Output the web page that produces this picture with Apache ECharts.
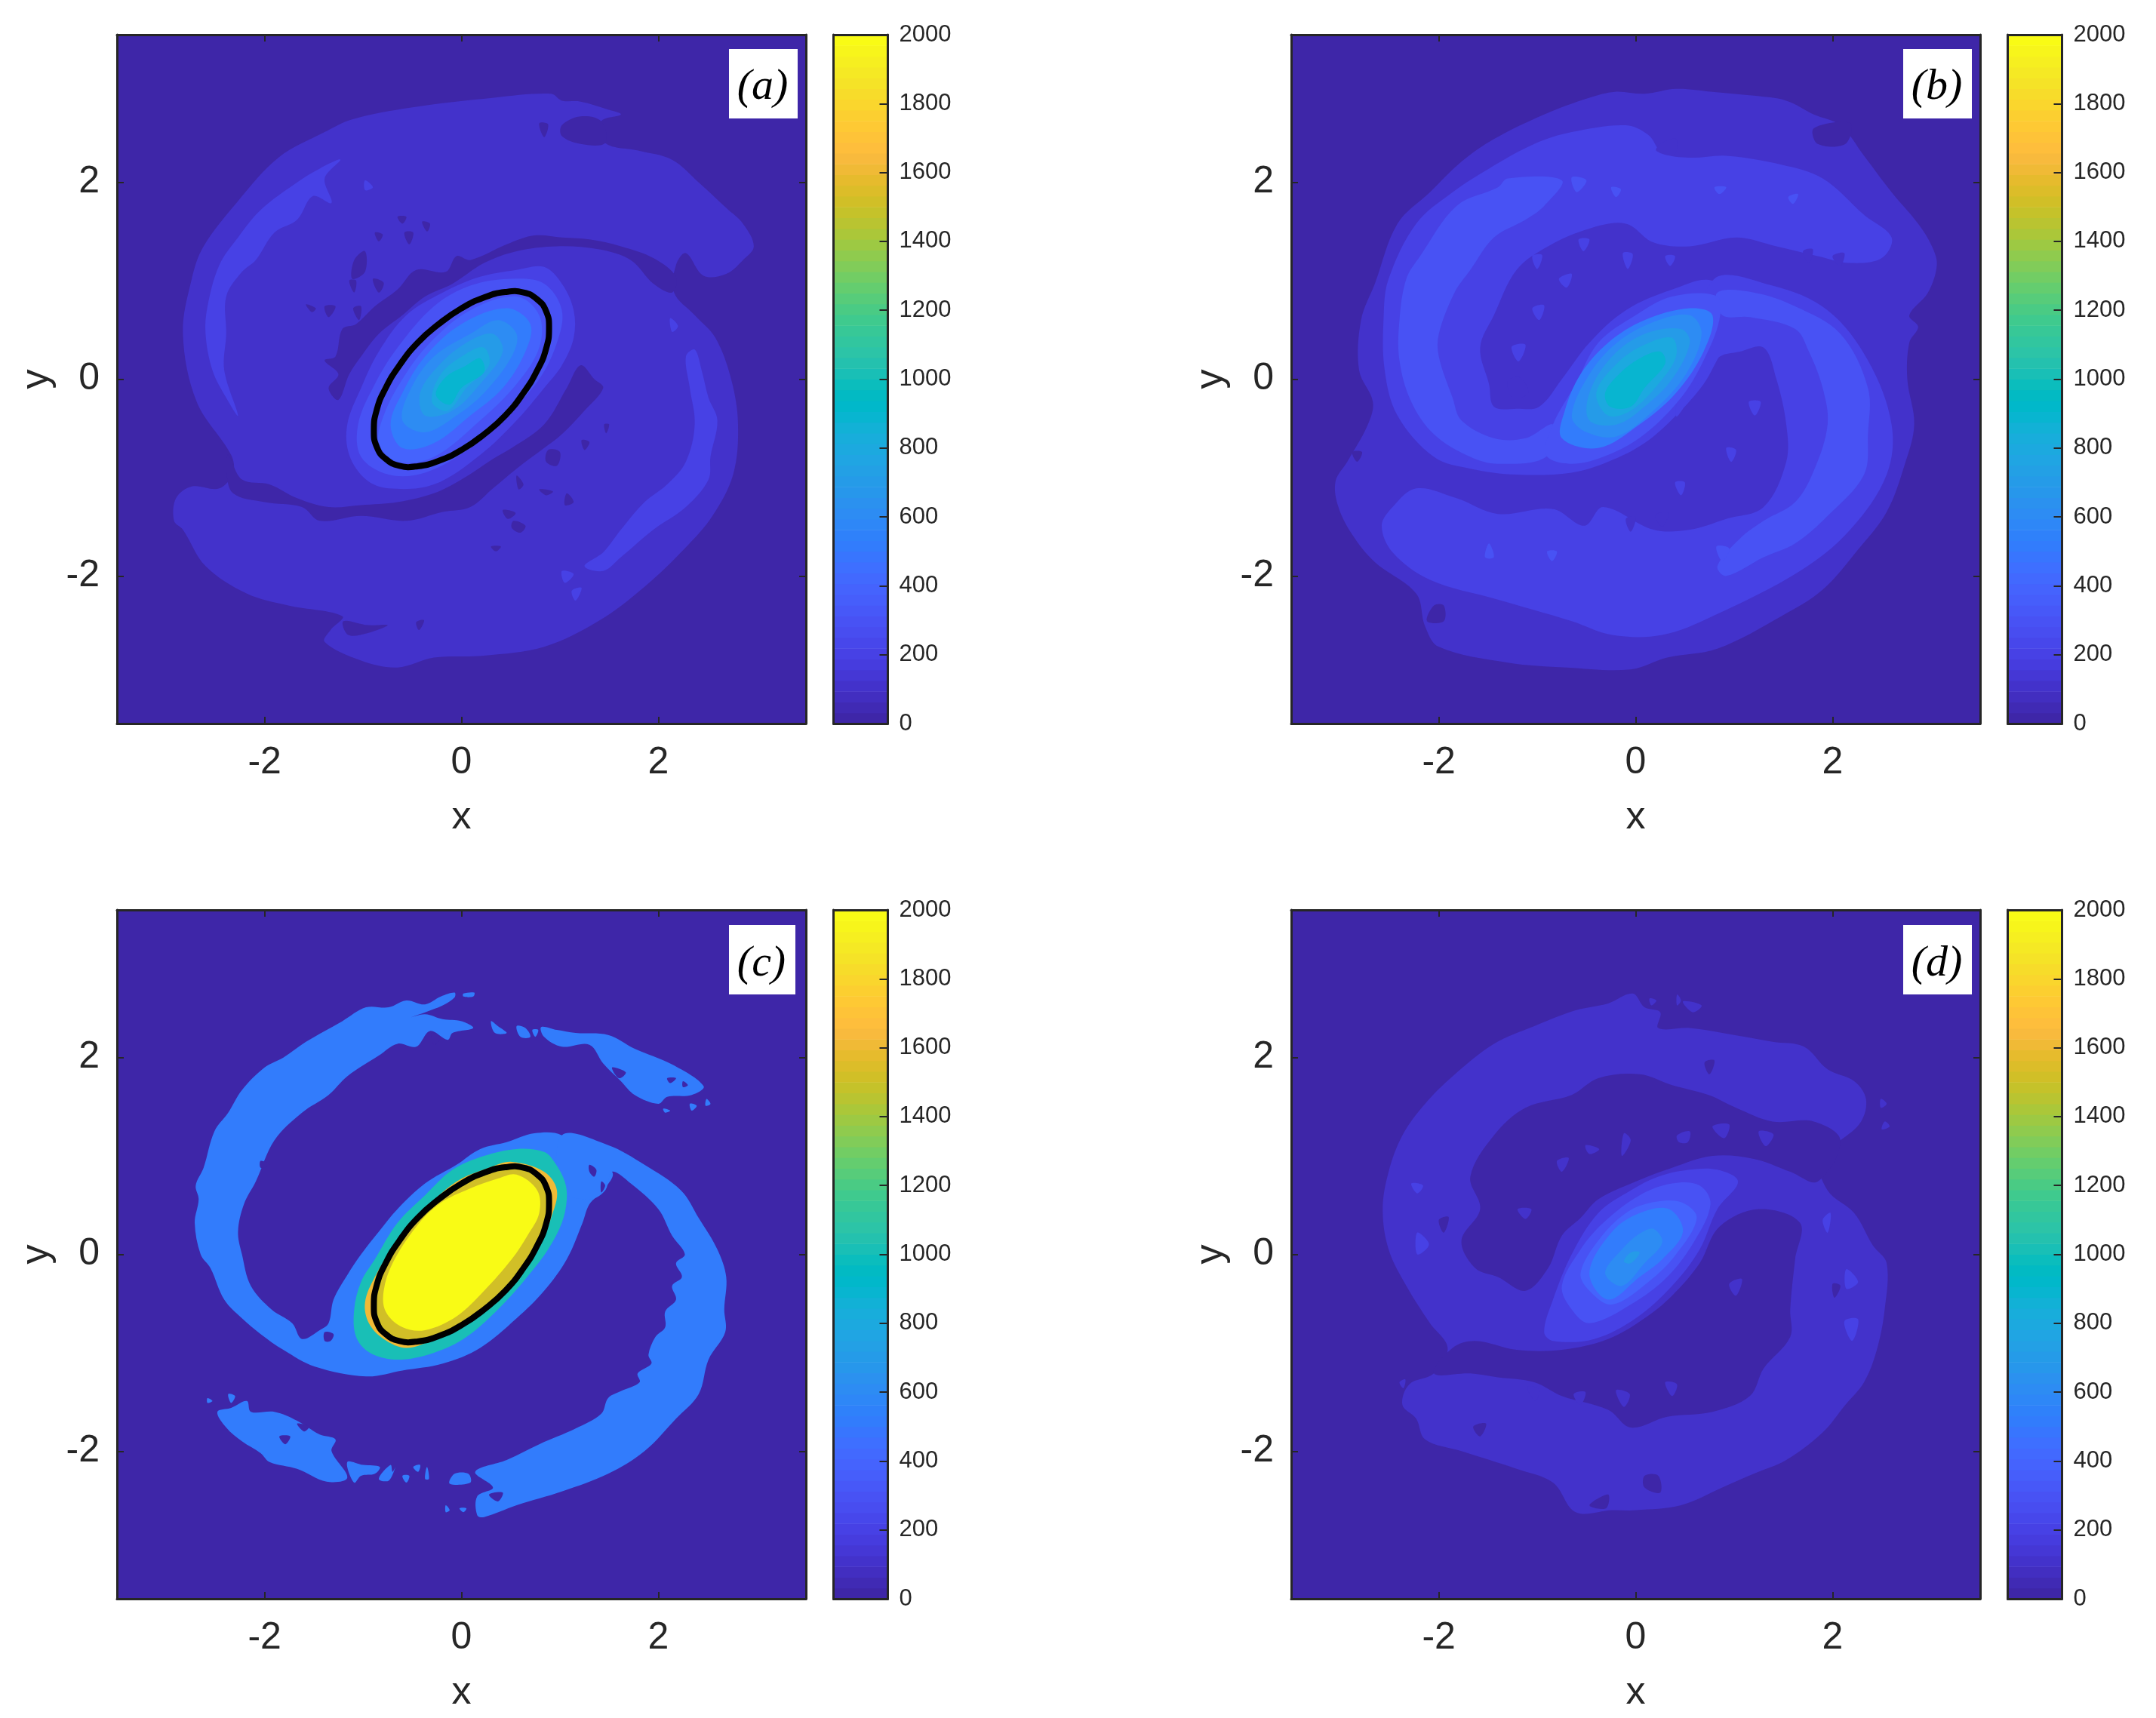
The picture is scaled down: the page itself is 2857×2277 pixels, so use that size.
<!DOCTYPE html>
<html><head><meta charset="utf-8">
<style>html,body{margin:0;padding:0;background:#fff}#c{width:2857px;height:2277px}</style>
<script src="https://cdn.jsdelivr.net/npm/echarts@6/dist/echarts.min.js"></script>
</head><body><div id="c"></div>
<script>
const xTicks=[-2,0,2], yTicks=[-2,0,2];
const cbTicks=[0,200,400,600,800,1000,1200,1400,1600,1800,2000];
const parula=[[.2422,.1504,.6603],[.2504,.165,.7076],[.2578,.1818,.7511],[.2647,.1978,.7952],[.2706,.2147,.8364],[.2751,.2342,.871],[.2783,.2559,.8991],[.2803,.2782,.9221],[.2813,.3006,.9414],[.281,.3228,.9579],[.2795,.3447,.9717],[.276,.3667,.9829],[.2699,.3892,.9906],[.2602,.4123,.9952],[.244,.4358,.9988],[.2206,.4603,.9973],[.1963,.4847,.9892],[.1834,.5074,.9798],[.1786,.5289,.9682],[.1764,.5499,.952],[.1687,.5703,.9359],[.154,.5902,.9218],[.146,.6091,.9079],[.138,.6276,.8973],[.1248,.6459,.8883],[.1113,.6635,.8763],[.0952,.6798,.8598],[.0689,.6948,.8394],[.0297,.7082,.8163],[.0036,.7203,.7917],[.0067,.7312,.766],[.0433,.7411,.7394],[.0964,.75,.712],[.1408,.7584,.6842],[.1717,.767,.6554],[.1938,.7758,.6251],[.2161,.7843,.5923],[.247,.7918,.5567],[.2906,.7973,.5188],[.3406,.8008,.4789],[.3909,.8029,.4354],[.4456,.8024,.3909],[.5044,.7993,.348],[.5616,.7942,.3045],[.6174,.7876,.2612],[.672,.7793,.2227],[.7242,.7698,.191],[.7738,.7598,.1646],[.8203,.7498,.1535],[.8634,.7406,.1596],[.9035,.733,.1774],[.9393,.7288,.21],[.9728,.7298,.2394],[.9956,.7434,.2371],[.997,.7659,.2199],[.9952,.7893,.2028],[.9892,.8136,.1885],[.9786,.8386,.1766],[.9676,.8639,.1643],[.961,.889,.1537],[.9597,.9135,.1423],[.9628,.9373,.1265],[.9691,.9606,.1064],[.9769,.9839,.0805]];

const ellipse=[[.89,.52],[.86,.69],[.77,.81],[.63,.88],[.445,.885],[.23,.83],[0,.72],[-.23,.56],[-.445,.37],[-.63,.14],[-.77,-.09],[-.86,-.31],[-.89,-.52],[-.86,-.69],[-.77,-.81],[-.63,-.88],[-.445,-.885],[-.23,-.83],[0,-.72],[.23,-.56],[.445,-.37],[.63,-.14],[.77,.09],[.86,.31]];

/* ---------- panel a ---------- */
const a_100_outer=[[.91,2.90],[1.02,2.83],[1.21,2.82],[1.49,2.74],[1.62,2.69],[1.42,2.62],[1.46,2.40],[1.81,2.32],[2.14,2.23],[2.41,2.00],[2.69,1.74],[2.86,1.58],[2.97,1.35],[2.86,1.21],[2.69,1.07],[2.46,1.05],[2.28,1.28],[2.18,1.16],[2.16,.88],[2.37,.65],[2.58,.42],[2.74,0],[2.81,-.46],[2.76,-.97],[2.55,-1.39],[2.27,-1.72],[1.86,-2.11],[1.39,-2.46],[.84,-2.72],[.23,-2.81],[-.28,-2.83],[-.65,-2.93],[-1.02,-2.86],[-1.39,-2.67],[-1.33,-2.55],[-1.21,-2.41],[-1.76,-2.30],[-2.18,-2.18],[-2.60,-1.90],[-2.83,-1.53],[-2.92,-1.44],[-2.90,-1.21],[-2.74,-1.09],[-2.46,-1.11],[-2.32,-.95],[-2.34,-.77],[-2.69,-.23],[-2.83,.46],[-2.74,1.02],[-2.62,1.35],[-2.27,1.81],[-1.86,2.25],[-1.39,2.51],[-1.11,2.64],[-.51,2.76],[.33,2.86]];
const a_0_upperBand=[[2.18,1.04],[1.95,1.23],[1.62,1.35],[1.30,1.42],[1.02,1.44],[.74,1.46],[.46,1.37],[.09,1.21],[-.05,1.25],[-.16,1.09],[-.46,1.11],[-.65,.91],[-.88,.74],[-1.07,.56],[-1.21,.51],[-1.28,.23],[-1.39,.19],[-1.25,.05],[-1.35,-.09],[-1.25,-.21],[-1.14,.05],[-1.02,.23],[-.84,.46],[-.60,.65],[-.37,.84],[-.09,.97],[.23,1.18],[.56,1.30],[.97,1.35],[1.39,1.32],[1.72,1.21],[1.95,.97],[2.14,.88]];
const a_0_lowerBand=[[-2.37,-.77],[-2.23,-1.02],[-1.95,-1.07],[-1.67,-1.21],[-1.35,-1.30],[-1.02,-1.28],[-.65,-1.25],[-.28,-1.16],[0,-1.02],[.32,-.81],[.51,-.70],[.84,-.46],[1.07,-.09],[1.21,.14],[1.35,0],[1.44,-.09],[1.25,-.32],[1.02,-.56],[.84,-.70],[.56,-.91],[.32,-1.11],[.09,-1.30],[-.19,-1.35],[-.56,-1.44],[-1.02,-1.39],[-1.44,-1.44],[-1.62,-1.30],[-2.00,-1.25],[-2.32,-1.16],[-2.39,-.93]];
const a_0_blobs=[[[1.02,2.58],[1.21,2.67],[1.42,2.62],[1.46,2.40],[1.21,2.39],[1.02,2.47]],[[.79,2.60],[.88,2.59],[.84,2.46]],[[-1.20,-2.46],[-.95,-2.50],[-.75,-2.50],[-.95,-2.58],[-1.15,-2.60]],[[.53,-1.44],[.65,-1.49],[.60,-1.56],[.51,-1.51]],[[1.07,-1.16],[1.14,-1.25],[1.05,-1.28]],[[.79,-1.12],[.93,-1.14],[.86,-1.18]],[[.56,-.98],[.63,-1.07],[.58,-1.12]],[[.88,-.72],[1.00,-.74],[.97,-.88],[.86,-.84]],[[-1.09,1.21],[-.98,1.30],[-.98,1.09],[-1.11,1.02]],[[-.90,1.02],[-.79,.98],[-.84,.88]],[[-.65,1.65],[-.56,1.65],[-.60,1.58]],[[-.58,1.49],[-.49,1.49],[-.53,1.37]],[[-1.14,1.00],[-1.07,1.00],[-1.09,.88]],[[-1.39,.74],[-1.28,.74],[-1.35,.63]],[[-.88,1.49],[-.80,1.47],[-.84,1.40]],[[-.40,1.60],[-.32,1.58],[-.35,1.50]],[[-1.58,.76],[-1.48,.72],[-1.52,.68]],[[-1.10,.72],[-1.02,.74],[-1.04,.60]],[[.42,-1.33],[.55,-1.36],[.47,-1.42]],[[.30,-1.70],[.40,-1.70],[.35,-1.75]],[[1.45,-.46],[1.50,-.46],[1.47,-.55]],[[1.22,-.62],[1.30,-.64],[1.25,-.72]],[[-.46,-2.47],[-.38,-2.45],[-.43,-2.55]]];
const a_200_left=[[-1.23,2.23],[-1.39,2.04],[-1.32,1.79],[-1.51,1.86],[-1.67,1.62],[-1.90,1.49],[-2.09,1.21],[-2.23,1.09],[-2.39,.84],[-2.39,.46],[-2.41,.09],[-2.27,-.37],[-2.39,-.19],[-2.53,.09],[-2.60,.46],[-2.58,.74],[-2.46,1.16],[-2.27,1.44],[-2.04,1.72],[-1.67,2.00],[-1.44,2.14]];
const a_200_right=[[2.37,.30],[2.44,.09],[2.51,-.19],[2.60,-.42],[2.53,-.79],[2.51,-1.02],[2.28,-1.30],[1.95,-1.53],[1.62,-1.81],[1.44,-1.95],[1.25,-1.90],[1.44,-1.76],[1.62,-1.53],[1.86,-1.25],[2.09,-1.07],[2.28,-.84],[2.37,-.46],[2.32,-.09],[2.28,.23]];
const a_200_blobs=[[[1.02,-1.95],[1.14,-1.98],[1.05,-2.07]],[[1.12,-2.15],[1.22,-2.12],[1.16,-2.25]],[[2.12,.62],[2.20,.54],[2.14,.48]],[[-.98,2.02],[-.90,1.95],[-.98,1.92]]];
const a_200_core=[[.84,1.14],[1.02,.97],[1.14,.70],[1.14,.42],[1.02,.14],[.84,-.09],[.56,-.42],[.19,-.77],[-.28,-1.07],[-.74,-1.11],[-.97,-1.02],[-1.14,-.77],[-1.16,-.46],[-1.02,-.09],[-.84,.28],[-.56,.65],[-.19,.88],[.19,1.04],[.56,1.11]];
const a_300_core=[[.84,.97],[1.02,.70],[.97,.37],[.79,0],[.46,-.37],[.09,-.70],[-.37,-.95],[-.74,-.97],[-1.02,-.79],[-1.05,-.46],[-.88,-.05],[-.65,.32],[-.28,.74],[.09,.95],[.51,1.02]];
const a_400_core=[[.56,.84],[.79,.65],[.79,.32],[.56,-.05],[.19,-.42],[-.28,-.79],[-.65,-.84],[-.84,-.65],[-.79,-.37],[-.60,0],[-.32,.37],[.09,.70]];
const a_500_core=[[.46,.72],[.70,.56],[.65,.28],[.42,-.09],[.09,-.37],[-.28,-.65],[-.60,-.70],[-.72,-.46],[-.60,-.14],[-.37,.23],[0,.56]];
const a_600_core=[[.37,.60],[.56,.46],[.51,.23],[.23,-.14],[-.05,-.37],[-.37,-.54],[-.60,-.42],[-.51,-.09],[-.28,.23],[.09,.46]];
const a_700_core=[[.32,.46],[.42,.28],[.19,-.05],[-.09,-.32],[-.37,-.37],[-.42,-.14],[-.23,.14],[.05,.37]];
const a_800_core=[[.23,.32],[.28,.14],[.05,-.09],[-.14,-.32],[-.30,-.23],[-.21,.05],[.05,.26]];
const a_900_core=[[.19,.21],[.23,.07],[0,-.09],[-.12,-.26],[-.26,-.16],[-.16,.02],[.05,.14]];

/* ---------- panel b ---------- */
const b_100_outer=[[-.21,2.92],[.09,2.90],[.41,2.95],[.78,2.92],[1.20,2.88],[1.53,2.83],[1.81,2.69],[2.08,2.58],[2.32,2.27],[2.60,1.90],[2.87,1.58],[3.01,1.35],[3.06,1.16],[2.97,.88],[2.78,.65],[2.87,.53],[2.78,.37],[2.76,0],[2.83,-.46],[2.73,-.88],[2.55,-1.35],[2.27,-1.72],[1.90,-2.14],[1.48,-2.41],[.83,-2.74],[.32,-2.83],[-.05,-2.95],[-.70,-2.93],[-1.30,-2.88],[-2.00,-2.72],[-2.14,-2.51],[-2.23,-2.18],[-2.65,-1.86],[-2.88,-1.58],[-3.02,-1.30],[-3.05,-1.04],[-2.93,-.84],[-2.72,-.46],[-2.67,-.23],[-2.81,.09],[-2.79,.60],[-2.65,.97],[-2.42,1.58],[-2.09,1.90],[-1.77,2.21],[-1.44,2.44],[-.93,2.69],[-.47,2.86]];
const b_0_blobs=[[[1.81,2.55],[2.18,2.60],[2.13,2.39],[1.85,2.39]],[[-2.05,-2.30],[-1.95,-2.30],[-1.95,-2.46],[-2.12,-2.46]],[[-.42,-2.41],[-.28,-2.37],[-.28,-2.51],[-.42,-2.53]],[[-2.88,-.74],[-2.78,-.74],[-2.83,-.84]]];
const b_200_upper=[[2.60,1.44],[2.32,1.67],[1.90,2.04],[1.48,2.18],[.92,2.27],[.55,2.25],[.27,2.30],[.13,2.48],[-.10,2.58],[-.65,2.51],[-1.03,2.39],[-1.49,2.14],[-1.86,1.90],[-2.23,1.58],[-2.51,1.02],[-2.56,.65],[-2.55,.09],[-2.42,-.37],[-2.05,-.79],[-1.68,-.91],[-1.21,-.97],[-.65,-.95],[-.28,-.84],[.09,-.65],[.41,-.37],[.69,-.05],[.88,.28],[1.02,.42],[1.20,.65],[.78,1.00],[.37,.91],[-.10,.70],[-.47,.37],[-.75,0],[-.98,-.28],[-1.21,-.30],[-1.44,-.28],[-1.49,-.05],[-1.58,.32],[-1.44,.65],[-1.21,1.11],[-.89,1.35],[-.47,1.53],[-.10,1.58],[.18,1.39],[.55,1.35],[1.02,1.44],[1.43,1.35],[1.85,1.25],[2.18,1.18],[2.50,1.23]];
const b_200_lower=[[.78,1.00],[1.39,.95],[1.95,.70],[2.36,.19],[2.60,-.46],[2.55,-.97],[2.18,-1.53],[1.67,-1.95],[.78,-2.41],[.27,-2.60],[-.24,-2.60],[-.65,-2.46],[-1.44,-2.23],[-2.09,-2.04],[-2.47,-1.76],[-2.58,-1.49],[-2.47,-1.30],[-2.23,-1.11],[-1.82,-1.21],[-1.40,-1.37],[-.84,-1.32],[-.52,-1.49],[-.33,-1.30],[.18,-1.53],[.55,-1.53],[.92,-1.42],[1.30,-1.30],[1.53,-.84],[1.53,-.46],[1.43,0],[1.30,.32],[1.06,.28],[.83,.21],[.41,-.37]];
const b_100_blobs=[[[.25,2.39],[.41,2.44],[.39,2.28],[.21,2.32]],[[-1.30,-.02],[-1.18,.02],[-1.09,-.14],[-1.25,-.19]],[[1.70,1.30],[1.80,1.32],[1.76,1.18]],[[2.00,1.25],[2.12,1.28],[2.08,1.15]],[[.20,-1.38],[.33,-1.36],[.27,-1.50]],[[-.10,-1.42],[0,-1.40],[-.05,-1.55]]];
const b_200_blobs=[[[-1.05,.72],[-.93,.75],[-.98,.60]],[[-1.26,.33],[-1.12,.35],[-1.19,.18]],[[.92,-.70],[1.02,-.72],[.97,-.84]],[[.40,-1.05],[.50,-1.05],[.46,-1.18]],[[1.15,-.23],[1.27,-.23],[1.21,-.37]],[[-.78,1.02],[-.65,1.07],[-.70,.93]],[[-1.05,1.25],[-.95,1.26],[-1.00,1.12]],[[-.58,1.42],[-.47,1.42],[-.53,1.30]],[[-.13,1.28],[-.03,1.27],[-.08,1.12]],[[.30,1.25],[.40,1.25],[.35,1.15]]];
const b_300_left=[[-1.30,2.04],[-.75,2.02],[-.93,1.76],[-1.12,1.62],[-1.44,1.44],[-1.68,1.11],[-1.84,.88],[-2.00,.46],[-2.00,.23],[-1.86,-.19],[-1.77,-.42],[-1.44,-.60],[-1.12,-.60],[-.84,-.46],[-.91,-.79],[-1.40,-.86],[-1.68,-.79],[-2.05,-.56],[-2.28,-.23],[-2.40,.19],[-2.40,.60],[-2.33,1.02],[-2.19,1.25],[-1.82,1.76],[-1.40,1.95]];
const b_300_right=[[.83,.88],[1.20,.88],[1.62,.74],[2.08,.46],[2.36,-.09],[2.36,-.56],[2.32,-.97],[1.95,-1.39],[1.62,-1.67],[1.30,-1.81],[.92,-2.00],[.83,-1.90],[1.06,-1.62],[1.30,-1.44],[1.62,-1.25],[1.81,-.93],[1.95,-.46],[1.90,-.09],[1.76,.28],[1.62,.51],[1.16,.63],[.88,.65]];
const b_300_core=[[.83,.84],[.85,.60],[.69,.19],[.46,-.19],[.09,-.56],[-.28,-.77],[-.65,-.86],[-.91,-.77],[-.84,-.46],[-.61,-.05],[-.38,.37],[0,.65],[.37,.84]];
const b_300_blobs=[[[-1.49,-1.67],[-1.44,-1.81],[-1.53,-1.81]],[[-.65,2.05],[-.50,2.02],[-.60,1.90]],[[-.25,1.95],[-.15,1.93],[-.20,1.85]],[[.80,1.95],[.92,1.95],[.85,1.88]],[[1.55,1.85],[1.65,1.88],[1.60,1.78]],[[-.90,-1.75],[-.80,-1.75],[-.85,-1.85]],[[.82,-1.70],[.95,-1.72],[.88,-1.85]]];
const b_500_core=[[.55,.72],[.78,.65],[.69,.28],[.41,-.14],[.04,-.46],[-.38,-.70],[-.75,-.60],[-.72,-.32],[-.56,.05],[-.28,.37],[.09,.60]];
const b_600_core=[[.55,.65],[.67,.46],[.51,.05],[.18,-.32],[-.19,-.58],[-.52,-.53],[-.65,-.37],[-.47,.05],[-.19,.37],[.18,.58]];
const b_700_core=[[.46,.51],[.55,.37],[.37,0],[.09,-.28],[-.19,-.46],[-.47,-.42],[-.47,-.14],[-.24,.23],[.09,.46]];
const b_800_core=[[.37,.42],[.41,.23],[.23,-.05],[-.05,-.32],[-.28,-.37],[-.40,-.14],[-.19,.16],[.09,.35]];
const b_900_core=[[.25,.28],[.30,.16],[.09,-.09],[-.05,-.28],[-.26,-.28],[-.31,-.14],[-.17,.05],[.04,.21]];

/* ---------- panel c ---------- */
const c_500_left=[[-.07,2.66],[-.21,2.62],[-.37,2.54],[-.56,2.58],[-.74,2.51],[-.97,2.51],[-1.21,2.37],[-1.58,2.16],[-1.81,2.00],[-2.00,1.90],[-2.23,1.67],[-2.37,1.44],[-2.51,1.25],[-2.62,.88],[-2.70,.70],[-2.67,.56],[-2.71,.32],[-2.65,0],[-2.55,-.14],[-2.41,-.46],[-2.23,-.65],[-2.04,-.81],[-1.81,-.97],[-1.49,-1.14],[-.97,-1.24],[-.60,-1.18],[-.19,-1.11],[.19,-.95],[.56,-.65],[.84,-.37],[1.07,-.05],[1.23,.32],[1.30,.51],[1.44,.65],[1.53,.84],[1.02,1.21],[.74,1.23],[.46,1.14],[.19,1.07],[-.05,.91],[-.37,.72],[-.65,.46],[-.84,.23],[-1.02,0],[-1.16,-.21],[-1.30,-.46],[-1.35,-.70],[-1.44,-.77],[-1.62,-.86],[-1.72,-.70],[-1.93,-.56],[-2.14,-.32],[-2.23,0],[-2.27,.23],[-2.21,.51],[-2.09,.74],[-1.90,1.16],[-1.62,1.44],[-1.35,1.62],[-1.16,1.81],[-.84,2.02],[-.65,2.14],[-.46,2.11],[-.32,2.27],[-.14,2.18],[-.09,2.25],[.12,2.30],[0,2.37],[-.19,2.39],[-.37,2.44],[-.51,2.41],[-.37,2.46],[-.19,2.53],[-.07,2.61]];
const c_500_right=[[1.02,1.21],[1.49,1.11],[1.86,.91],[2.23,.65],[2.41,.37],[2.60,.05],[2.69,-.23],[2.67,-.56],[2.68,-.79],[2.51,-1.07],[2.41,-1.42],[2.18,-1.67],[1.86,-2.00],[1.49,-2.23],[1.02,-2.41],[.56,-2.55],[.23,-2.67],[.16,-2.65],[.16,-2.46],[.32,-2.37],[.14,-2.21],[.46,-2.09],[.79,-1.93],[1.16,-1.77],[1.42,-1.62],[1.49,-1.46],[1.62,-1.39],[1.81,-1.30],[1.79,-1.21],[1.93,-1.11],[1.90,-1.02],[1.97,-.84],[2.07,-.74],[2.07,-.58],[2.18,-.46],[2.14,-.32],[2.24,-.23],[2.18,-.09],[2.27,0],[2.14,.19],[2.00,.46],[1.72,.72],[1.53,.84],[1.46,.65],[1.30,.56],[1.02,.65]];
const c_500_lowerTip=[[-2.48,-1.60],[-2.34,-1.56],[-2.18,-1.49],[-2.14,-1.60],[-1.90,-1.60],[-1.67,-1.69],[-1.44,-1.83],[-1.28,-1.88],[-1.32,-2.00],[-1.16,-2.27],[-1.37,-2.31],[-1.67,-2.18],[-1.95,-2.11],[-2.04,-2.02],[-2.23,-1.90],[-2.39,-1.76]];
const c_500_upperTip=[[.81,2.31],[.97,2.28],[1.16,2.25],[1.49,2.23],[1.76,2.09],[2.14,1.93],[2.46,1.71],[2.34,1.62],[2.09,1.60],[2.00,1.53],[1.76,1.62],[1.62,1.76],[1.44,1.94],[1.30,2.13],[1.02,2.11],[.84,2.21]];
const c_500_blobs=[[[.02,2.65],[.13,2.66],[.12,2.62],[.02,2.62]],[[.30,2.37],[.37,2.32],[.46,2.25],[.34,2.25]],[[.56,2.32],[.65,2.30],[.70,2.21],[.60,2.21]],[[.72,2.28],[.78,2.28],[.75,2.21]],[[2.49,1.58],[2.53,1.53],[2.48,1.51]],[[2.32,1.53],[2.39,1.51],[2.34,1.46]],[[2.05,1.48],[2.12,1.46],[2.07,1.44]],[[-1.16,-2.11],[-1.00,-2.14],[-.83,-2.16],[-.88,-2.23],[-1.02,-2.25],[-1.09,-2.32]],[[-.84,-2.28],[-.72,-2.14],[-.70,-2.21],[-.67,-2.16],[-.74,-2.30]],[[-.60,-2.25],[-.53,-2.25],[-.56,-2.32]],[[-.49,-2.16],[-.42,-2.14],[-.44,-2.21]],[[-.35,-2.16],[-.33,-2.28],[-.37,-2.28]],[[-.07,-2.23],[.07,-2.23],[.09,-2.32],[-.12,-2.33]],[[-.02,-2.58],[.05,-2.58],[.02,-2.62]],[[-.16,-2.55],[-.12,-2.60],[-.16,-2.62]],[[-2.58,-1.46],[-2.53,-1.49],[-2.58,-1.51]],[[-2.37,-1.42],[-2.30,-1.44],[-2.34,-1.51]]];
const c_0_blobs=[[[-1.39,-.79],[-1.30,-.81],[-1.33,-.88],[-1.39,-.88]],[[1.30,.91],[1.37,.86],[1.35,.79],[1.30,.84]],[[1.42,.74],[1.46,.70],[1.42,.63]],[[1.53,1.90],[1.67,1.85],[1.60,1.79]],[[2.09,1.79],[2.18,1.79],[2.12,1.74]],[[2.25,1.76],[2.30,1.72],[2.25,1.70]],[[-1.67,-1.72],[-1.55,-1.75],[-1.60,-1.80]],[[-.30,2.25],[-.21,2.20],[-.28,2.13]],[[.28,-2.44],[.42,-2.42],[.37,-2.51]],[[-2.04,.95],[-1.95,.91],[-2.04,.88]],[[-1.85,-1.85],[-1.74,-1.85],[-1.79,-1.93]]];
const c_1000_core=[[.84,1.04],[.95,.93],[1.05,.74],[1.07,.56],[1.02,.32],[.88,.05],[.70,-.19],[.42,-.51],[.05,-.84],[-.28,-1.00],[-.65,-1.07],[-.93,-1.00],[-1.07,-.84],[-1.09,-.56],[-1.02,-.28],[-.88,-.05],[-.65,.32],[-.37,.60],[-.09,.86],[.23,1.00],[.56,1.07]];
const c_1600_core=[[.51,.94],[.84,.84],[.97,.65],[.91,.37],[.79,.09],[.46,-.28],[.05,-.67],[-.28,-.86],[-.56,-.95],[-.79,-.86],[-.94,-.70],[-.98,-.49],[-.88,-.23],[-.65,.14],[-.37,.46],[-.05,.74],[.28,.88]];
const c_2000_core=[[.56,.81],[.77,.65],[.79,.42],[.67,.19],[.51,-.05],[.23,-.37],[-.05,-.63],[-.37,-.77],[-.60,-.74],[-.77,-.58],[-.79,-.37],[-.70,-.09],[-.46,.28],[-.23,.51],[.09,.67],[.37,.77]];

/* ---------- panel d ---------- */
const d_100_outer=[[-.03,2.65],[.09,2.51],[.25,2.46],[.23,2.30],[.55,2.30],[.88,2.25],[1.39,2.16],[1.71,2.11],[1.95,1.88],[2.22,1.76],[2.34,1.58],[2.29,1.35],[2.08,1.16],[1.85,1.02],[1.95,.65],[2.22,.42],[2.41,.09],[2.55,-.09],[2.53,-.56],[2.45,-.97],[2.32,-1.30],[2.13,-1.53],[1.90,-1.81],[1.53,-2.09],[1.20,-2.23],[.88,-2.37],[.46,-2.55],[0,-2.60],[-.24,-2.60],[-.61,-2.62],[-.84,-2.32],[-1.21,-2.18],[-1.77,-2.00],[-2.14,-1.88],[-2.23,-1.67],[-2.37,-1.53],[-2.30,-1.32],[-2.05,-1.21],[-1.91,-.95],[-2.09,-.70],[-2.33,-.32],[-2.51,.05],[-2.57,.46],[-2.51,.84],[-2.37,1.21],[-2.14,1.53],[-1.86,1.81],[-1.44,2.14],[-1.03,2.32],[-.61,2.48],[-.28,2.55]];
const d_0_leftHole=[[2.08,1.16],[1.81,1.35],[1.39,1.35],[1.02,1.49],[.74,1.62],[.37,1.72],[.04,1.83],[-.38,1.79],[-.65,1.62],[-1.12,1.49],[-1.44,1.21],[-1.68,.79],[-1.58,.46],[-1.77,.14],[-1.63,-.14],[-1.40,-.23],[-1.12,-.37],[-.89,-.14],[-.75,.19],[-.56,.37],[-.38,.56],[0,.74],[.37,.88],[.78,1.00],[1.20,.97],[1.57,.84],[1.85,.74]];
const d_0_rightHole=[[-1.86,-.95],[-1.63,-.88],[-1.21,-.97],[-.75,-.97],[-.28,-.86],[.09,-.65],[.37,-.42],[.65,-.09],[.85,.28],[1.25,.46],[1.67,.32],[1.62,-.05],[1.57,-.56],[1.57,-.84],[1.30,-1.16],[1.16,-1.44],[.78,-1.60],[.32,-1.65],[-.05,-1.76],[-.28,-1.58],[-.75,-1.44],[-1.03,-1.30],[-1.40,-1.25],[-1.68,-1.21],[-2.05,-1.21]];
const d_100_blobs=[[[-.51,1.11],[-.37,1.07],[-.47,1.02]],[[-.12,1.23],[-.05,1.16],[-.14,1.00]],[[.42,1.21],[.55,1.25],[.53,1.14],[.44,1.14]],[[.78,1.30],[.95,1.32],[.90,1.18]],[[1.25,1.25],[1.40,1.22],[1.32,1.10]],[[-1.10,-1.35],[-.98,-1.37],[-1.02,-1.49]],[[-.63,-1.42],[-.51,-1.40],[-.56,-1.53]],[[-.20,-1.38],[-.06,-1.42],[-.12,-1.55]],[[.30,-1.30],[.42,-1.32],[.37,-1.44]],[[.95,-.30],[1.08,-.25],[1.02,-.42]],[[.48,2.57],[.67,2.53],[.58,2.46]],[[.14,2.60],[.21,2.58],[.16,2.53]],[[.42,2.64],[.46,2.58],[.42,2.53]],[[2.49,1.58],[2.55,1.53],[2.49,1.49]],[[2.53,1.35],[2.58,1.30],[2.50,1.27]],[[-2.40,-1.30],[-2.34,-1.27],[-2.36,-1.36]],[[-1.20,.46],[-1.06,.46],[-1.12,.36]],[[-.80,.95],[-.68,.98],[-.75,.84]]];
const d_0_blobs=[[[.09,-2.25],[.23,-2.25],[.25,-2.42],[.09,-2.37]],[[-.47,-2.55],[-.28,-2.44],[-.30,-2.58]],[[.70,1.95],[.80,1.97],[.75,1.83]],[[-1.65,-1.75],[-1.52,-1.72],[-1.58,-1.85]],[[2.00,-.30],[2.08,-.32],[2.02,-.44]],[[-2.00,.35],[-1.90,.38],[-1.95,.22]]];
const d_200_blobs=[[[-2.28,.72],[-2.16,.70],[-2.22,.62]],[[-2.22,.22],[-2.10,.10],[-2.22,0]],[[2.12,-.68],[2.26,-.66],[2.20,-.88]],[[2.14,-.15],[2.26,-.28],[2.14,-.35]],[[1.90,.35],[1.98,.42],[1.95,.22]]];
const d_200_core=[[.83,.86],[1.04,.74],[.83,.46],[.65,.05],[.37,-.32],[0,-.65],[-.42,-.86],[-.84,-.88],[-.93,-.79],[-.84,-.46],[-.65,0],[-.38,.42],[-.05,.65],[.23,.79],[.55,.86]];
const d_300_core=[[.65,.70],[.76,.51],[.60,.14],[.32,-.23],[-.05,-.51],[-.47,-.70],[-.65,-.56],[-.75,-.32],[-.56,.05],[-.33,.32],[.04,.60],[.37,.72]];
const d_400_core=[[.46,.53],[.62,.37],[.41,0],[.13,-.28],[-.24,-.51],[-.47,-.37],[-.56,-.19],[-.38,.14],[-.10,.42],[.18,.53]];
const d_500_core=[[.34,.46],[.48,.23],[.27,-.05],[.04,-.23],[-.28,-.46],[-.47,-.19],[-.24,.23],[.04,.42]];
const d_600_core=[[.18,.26],[.27,.12],[.09,-.09],[-.14,-.32],[-.31,-.19],[-.14,.05],[.04,.21]];
const d_700_core=[[.04,.02],[-.05,-.09],[-.12,-.07],[-.05,.02]];

/* [level, outline] pairs, painted in order */
const many=(lv,list)=>list.map(p=>[lv,p]);
const regionsA=[[100,a_100_outer],[0,a_0_upperBand],[0,a_0_lowerBand],...many(0,a_0_blobs),[200,a_200_left],[200,a_200_right],...many(200,a_200_blobs),[200,a_200_core],[300,a_300_core],[400,a_400_core],[500,a_500_core],[600,a_600_core],[700,a_700_core],[800,a_800_core],[900,a_900_core]];
const regionsB=[[100,b_100_outer],...many(0,b_0_blobs),[200,b_200_upper],[200,b_200_lower],...many(100,b_100_blobs),...many(200,b_200_blobs),[300,b_300_left],[300,b_300_right],[300,b_300_core],...many(300,b_300_blobs),[500,b_500_core],[600,b_600_core],[700,b_700_core],[800,b_800_core],[900,b_900_core]];
const regionsC=[[500,c_500_left],[500,c_500_right],[500,c_500_lowerTip],[500,c_500_upperTip],...many(500,c_500_blobs),...many(0,c_0_blobs),[1000,c_1000_core],[1600,c_1600_core],[1500,ellipse],[2000,c_2000_core]];
const regionsD=[[100,d_100_outer],[0,d_0_leftHole],[0,d_0_rightHole],...many(100,d_100_blobs),...many(0,d_0_blobs),...many(200,d_200_blobs),[200,d_200_core],[300,d_300_core],[400,d_400_core],[500,d_500_core],[600,d_600_core],[700,d_700_core]];

const panels=[
 {tag:'(a)',left:155,top:46,regions:regionsA,ring:true,boxW:91,tagDy:5},
 {tag:'(b)',left:1711,top:46,regions:regionsB,ring:false,boxW:91,tagDy:5},
 {tag:'(c)',left:155,top:1206,regions:regionsC,ring:true,boxW:88,tagDy:6},
 {tag:'(d)',left:1711,top:1206,regions:regionsD,ring:false,boxW:91,tagDy:6}
];
const SIZE=913, CBX=950, CBW=72, INK='#262626', FONT='"Liberation Sans",Arial,sans-serif';
const rgb=c=>`rgb(${c.map(v=>Math.round(v*255)).join(',')})`;
const levelColor=v=>rgb(parula[Math.min(63,Math.floor(v/2000*64))]);
const plain=v=>String(v);
const line={show:true,onZero:false,lineStyle:{color:INK,width:3}};
const grid=[],xAxis=[],yAxis=[],series=[],graphic=[];
panels.forEach(p=>{
  const g=grid.length;
  grid.push({left:p.left,top:p.top,width:SIZE,height:SIZE,show:true,backgroundColor:rgb(parula[0]),borderWidth:0});
  const base={type:'value',min:-3.5,max:3.5,gridIndex:g,z:6,splitLine:{show:false},axisLine:line,
    axisTick:{show:true,inside:true,length:9,customValues:xTicks,lineStyle:{color:INK,width:2}}};
  const lab={show:true,customValues:xTicks,fontSize:50,color:INK,fontFamily:FONT,formatter:plain};
  const xi=xAxis.length, yi=yAxis.length;
  xAxis.push({...base,position:'bottom',name:'x',nameLocation:'middle',nameGap:99,nameTextStyle:{fontSize:52,color:INK,fontFamily:FONT},axisLabel:{...lab,margin:27}});
  xAxis.push({...base,position:'top',axisLabel:{show:false}});
  yAxis.push({...base,position:'left',name:'y',nameLocation:'middle',nameRotate:90,nameGap:80,nameTextStyle:{fontSize:52,color:INK,fontFamily:FONT},axisLabel:{...lab,margin:23}});
  yAxis.push({...base,position:'right',axisLabel:{show:false}});
  series.push({type:'custom',coordinateSystem:'cartesian2d',xAxisIndex:xi,yAxisIndex:yi,silent:true,animation:false,z:2,
    data:p.regions.map(r=>[r[0],r[0]]),clip:true,
    renderItem:(params,api)=>{const r=p.regions[params.dataIndex];
      return {type:'polygon',shape:{points:r[1].map(q=>api.coord(q)),smooth:.35},style:{fill:levelColor(r[0])}};}});
  if(p.ring) series.push({type:'custom',coordinateSystem:'cartesian2d',xAxisIndex:xi,yAxisIndex:yi,silent:true,animation:false,z:3,
    data:[ellipse[0]],clip:true,
    renderItem:(params,api)=>({type:'polygon',shape:{points:ellipse.map(q=>api.coord(q)),smooth:.5},style:{fill:'none',stroke:'#000',lineWidth:8}})});

  /* colour bar */
  const cg=grid.length;
  grid.push({left:p.left+CBX-.5,top:p.top,width:CBW,height:SIZE,show:false});
  const cx=xAxis.length, cy=yAxis.length;
  const cxBase={type:'value',min:0,max:1,gridIndex:cg,z:6,splitLine:{show:false},axisLine:line,axisTick:{show:false},axisLabel:{show:false}};
  xAxis.push({...cxBase,position:'bottom'},{...cxBase,position:'top'});
  const cyBase={type:'value',min:0,max:2000,gridIndex:cg,z:6,splitLine:{show:false},axisLine:line};
  yAxis.push({...cyBase,position:'right',axisTick:{show:true,inside:true,length:11,customValues:cbTicks,lineStyle:{color:INK,width:2}},
    axisLabel:{show:true,customValues:cbTicks,fontSize:31,color:INK,fontFamily:FONT,margin:15,align:'left',formatter:plain,padding:[4,0,0,0]}});
  yAxis.push({...cyBase,position:'left',axisTick:{show:false},axisLabel:{show:false}});
  series.push({type:'custom',coordinateSystem:'cartesian2d',xAxisIndex:cx,yAxisIndex:cy,silent:true,animation:false,z:2,
    data:parula.map((c,i)=>[.5,i*2000/64]),
    renderItem:(params,api)=>{const i=params.dataIndex;
      const a=api.coord([0,i*2000/64]),b=api.coord([1,(i+1)*2000/64]);
      return {type:'rect',shape:{x:a[0],y:b[1],width:b[0]-a[0],height:a[1]-b[1]+.6},style:{fill:rgb(parula[i])}};}});

  /* panel tag */
  const bx=p.left+811, by=p.top+19+(p.tag==='(c)'||p.tag==='(d)'?1:0);
  graphic.push({type:'rect',z:50,shape:{x:bx,y:by,width:p.boxW,height:92},style:{fill:'#fff'}});
  graphic.push({type:'text',z:51,x:bx+p.boxW/2-1,y:by+46+p.tagDy,style:{text:p.tag,fill:'#000',font:'italic 58px "Liberation Serif",serif',textAlign:'center',textVerticalAlign:'middle'}});
});
const chart=echarts.init(document.getElementById('c'),null,{renderer:'canvas'});
chart.setOption({animation:false,backgroundColor:'#fff',grid,xAxis,yAxis,series,graphic});
</script></body></html>
